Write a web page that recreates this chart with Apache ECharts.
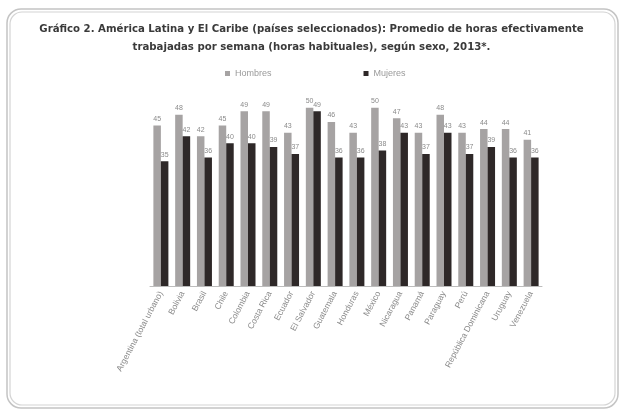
<!DOCTYPE html>
<html><head><meta charset="utf-8">
<script src="https://cdn.jsdelivr.net/npm/echarts@6/dist/echarts.min.js"></script>
<style>html,body{margin:0;padding:0;background:#fff}#c{width:623px;height:412px}</style>
</head><body><div id="c"></div>
<script>
const categories = ["Argentina (total urbano)","Bolivia","Brasil","Chile","Colombia","Costa Rica","Ecuador","El Salvador","Guatemala","Honduras","México","Nicaragua","Panamá","Paraguay","Perú","República Dominicana","Uruguay","Venezuela"];
const hombres = [45,48,42,45,49,49,43,50,46,43,50,47,43,48,43,44,44,41];
const mujeres = [35,42,36,40,40,39,37,49,36,36,38,43,37,43,37,39,36,36];
const titleText = "Gráfico 2. América Latina y El Caribe (países seleccionados): Promedio de horas efectivamente\ntrabajadas por semana (horas habituales), según sexo, 2013*.";

const chart = echarts.init(document.getElementById('c'), null, {renderer:'canvas'});
const lbl = {show:true, position:'top', fontSize:7, color:'#8a8a8a', distance:3, fontFamily:'Liberation Sans'};
chart.setOption({
  animation:false,
  backgroundColor:'#fff',
  graphic:[
    {type:'rect', shape:{x:7,y:9,width:611,height:399,r:14}, style:{fill:'none',stroke:'#c4c4c4',lineWidth:1.5}, silent:true},
    {type:'rect', shape:{x:10,y:12,width:605,height:393,r:12}, style:{fill:'none',stroke:'#d4d4d4',lineWidth:1.2}, silent:true}
  ],
  title:{text:titleText, left:'center', top:15, padding:[5,0,5,12], textStyle:{fontFamily:'"DejaVu Sans Condensed", "Liberation Sans"', fontWeight:'bold', fontSize:11.3, color:'#3a3a3a', lineHeight:18}},
  legend:{top:64, left:220, itemGap:92, itemWidth:5, itemHeight:5, icon:'rect', textStyle:{fontSize:9, color:'#9a9a9a', fontFamily:'Liberation Sans'}, data:['Hombres','Mujeres']},
  grid:{left:150, right:81, top:72, bottom:126, containLabel:false},
  xAxis:{type:'category', data:categories, axisLine:{lineStyle:{color:'#bdbdbd', width:1}}, axisTick:{show:false},
    axisLabel:{rotate:62, interval:0, fontSize:8.5, color:'#8a8a8a', margin:6, fontFamily:'Liberation Sans'}},
  yAxis:{type:'value', min:0, max:60, show:false, splitLine:{show:false}},
  series:[
    {name:'Hombres', type:'bar', data:hombres, barWidth:7.5, barGap:'0%', itemStyle:{color:'#a6a3a3'}, label:lbl},
    {name:'Mujeres', type:'bar', data:mujeres, barWidth:7.5, itemStyle:{color:'#2e2828'}, label:lbl}
  ]
});
</script></body></html>
